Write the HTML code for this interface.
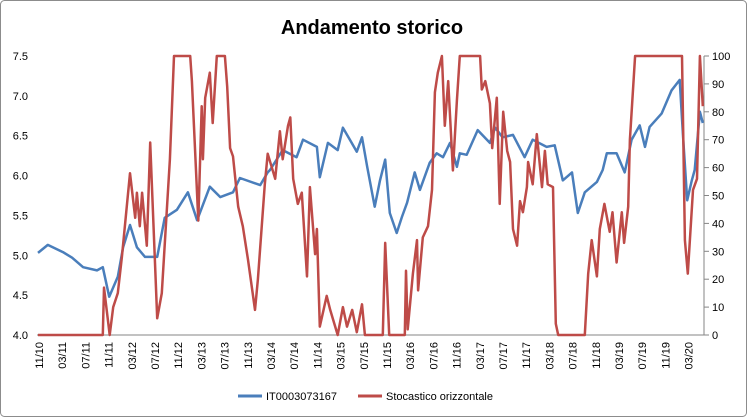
<!DOCTYPE html>
<html><head><meta charset="utf-8"><style>
body{margin:0;background:#fff;}
svg{display:block;font-family:"Liberation Sans",sans-serif;}
</style></head><body>
<svg id="chart" width="747" height="417">
<rect x="0.5" y="0.5" width="746" height="416" rx="4" fill="#fff" stroke="#8c8c8c"/>
<text x="372" y="34" text-anchor="middle" font-size="20" font-weight="bold" fill="#000">Andamento storico</text>
<g id="axes"></g>
<g id="series"></g>
<g>
<line x1="238" y1="396" x2="262" y2="396" stroke="#4a7ebb" stroke-width="3"/>
<text x="266" y="400" font-size="11" fill="#000">IT0003073167</text>
<line x1="358" y1="396" x2="382" y2="396" stroke="#be4b48" stroke-width="3"/>
<text x="386" y="400" font-size="11" fill="#000">Stocastico orizzontale</text>
</g>
</svg>
<script>
const xTickLabels=["11/10","03/11","07/11","11/11","03/12","07/12","11/12","03/13","07/13","11/13","03/14","07/14","11/14","03/15","07/15","11/15","03/16","07/16","11/16","03/17","07/17","11/17","03/18","07/18","11/18","03/19","07/19","11/19","03/20"];
const leftTicks=[4.0,4.5,5.0,5.5,6.0,6.5,7.0,7.5];
const rightTicks=[0,10,20,30,40,50,60,70,80,90,100];
// months since Nov 2010
const priceMonths=[0,1.7,4.3,5.9,7.8,10.2,11.2,12.3,13.8,14.7,15.9,17.1,18.5,20.6,21.9,24.0,25.9,27.5,29.7,31.5,33.7,34.9,38.4,39.7,40.1,42.3,44.7,45.8,48.2,48.7,50.1,51.8,52.7,53.9,55.1,56.0,56.9,58.2,59.1,60.0,60.8,62.0,62.9,63.8,65.1,66.0,67.7,68.9,70.0,71.2,72.4,72.9,74.1,76.0,78.1,79.0,80.3,82.1,84.1,85.5,87.9,89.3,90.7,92.3,93.3,94.5,96.6,97.6,98.3,100.0,101.4,102.6,104.0,104.9,105.7,107.8,109.5,110.9,111.5,112.2,113.0,113.5,114.4,114.9];
const priceValues=[5.03,5.13,5.04,4.97,4.85,4.81,4.85,4.48,4.73,5.10,5.38,5.10,4.98,4.98,5.47,5.57,5.79,5.44,5.86,5.73,5.79,5.97,5.88,6.04,6.07,6.32,6.23,6.45,6.36,5.98,6.41,6.32,6.60,6.45,6.30,6.48,6.11,5.61,5.94,6.20,5.53,5.28,5.48,5.66,6.04,5.82,6.16,6.28,6.23,6.41,6.11,6.28,6.26,6.57,6.41,6.60,6.48,6.51,6.23,6.45,6.36,6.38,5.94,6.04,5.53,5.79,5.92,6.07,6.28,6.28,6.04,6.45,6.63,6.36,6.61,6.78,7.07,7.20,6.48,5.69,5.94,6.07,6.80,6.66];
const stochMonths=[0,11.2,11.4,12.4,13.0,13.8,14.5,15.9,16.8,17.1,17.6,18.0,18.8,19.4,20.6,21.4,22.8,23.5,26.3,26.6,27.7,28.3,28.5,28.9,29.7,30.2,30.9,32.3,32.7,33.2,33.7,34.6,35.4,36.3,37.5,38.0,39.2,39.7,41.0,41.8,42.3,43.2,43.6,44.1,44.9,45.6,46.5,47.0,47.9,48.2,48.7,49.9,50.5,51.8,52.7,53.4,54.3,55.1,56.0,56.5,59.6,60.0,60.7,63.4,63.6,63.9,64.8,65.5,65.7,66.5,67.4,68.1,68.6,69.1,69.8,70.3,70.9,71.7,72.4,72.9,76.4,76.7,77.3,78.1,78.5,79.3,79.8,80.4,81.1,81.6,82.1,82.8,83.3,83.8,84.5,84.7,85.5,86.2,87.1,87.6,88.1,89.0,89.5,89.9,90.2,94.5,95.1,95.7,96.6,97.1,97.9,98.8,99.3,100.0,100.9,101.3,102.0,102.3,103.2,111.3,111.8,112.3,113.2,113.9,114.4,114.9];
const stochValues=[0,0,17,0,10,15,28,58,42,51,39,51,32,69,6,15,63,100,100,91,41,82,63,85,94,76,100,100,89,67,64,46,39,27,9,20,54,65,56,73,63,75,78,56,47,51,21,53,29,38,3,14,9,0,10,3,9,1,11,0,0,33,0,0,23,2,22,34,16,35,39,52,87,94,100,75,91,59,84,100,100,88,91,83,67,85,47,80,66,62,38,32,48,44,53,62,54,72,53,66,54,53,4,0,0,0,22,34,21,38,47,37,44,26,44,33,46,70,100,100,34,22,52,56,100,82];

const X0=38, XS=5.786, YT=56, YB=335;
const xScale=m=>X0+m*XS;
const yLeft=v=>YB-(v-4)/3.5*(YB-YT);
const yRight=v=>YB-v/100*(YB-YT);
const NS="http://www.w3.org/2000/svg";
const axes=document.getElementById('axes'), series=document.getElementById('series');
function mk(tag,attrs,parent){const e=document.createElementNS(NS,tag);for(const k in attrs)e.setAttribute(k,attrs[k]);parent.appendChild(e);return e;}

const xa=mk('line',{x1:37,y1:YB,x2:704,y2:YB,stroke:'#868686','stroke-width':1},axes);


const ra=mk('line',{x1:704,y1:YT,x2:704,y2:YB,stroke:'#868686','stroke-width':1},axes);



leftTicks.forEach(v=>{
  const t=mk('text',{x:28,y:yLeft(v)+4,'text-anchor':'end','font-size':11,fill:'#000'},axes);
  t.textContent=v.toFixed(1);
  
  
});
rightTicks.forEach(v=>{
  const tk=mk('line',{x1:704,y1:yRight(v),x2:709,y2:yRight(v),stroke:'#868686'},axes);
  
  
  const t=mk('text',{x:712,y:yRight(v)+4,'font-size':11,fill:'#000'},axes);
  t.textContent=String(v);
  
  
});
xTickLabels.forEach((l,i)=>{
  const x=39+i*23.2;
  const t=mk('text',{x:0,y:0,'text-anchor':'end','font-size':11,fill:'#000',transform:`translate(${x+4},342) rotate(-90)`},axes);
  t.textContent=l;
  
  
});

function path(ms,vs,yf){return ms.map((m,i)=>(i?'L':'M')+xScale(m).toFixed(1)+','+yf(vs[i]).toFixed(1)).join('');}
const p1=mk('path',{d:path(priceMonths,priceValues,yLeft),fill:'none',stroke:'#4a7ebb','stroke-width':2.5,'stroke-linejoin':'round'},series);


const p2=mk('path',{d:path(stochMonths,stochValues,yRight),fill:'none',stroke:'#be4b48','stroke-width':2.5,'stroke-linejoin':'round'},series);


</script>
</body></html>
